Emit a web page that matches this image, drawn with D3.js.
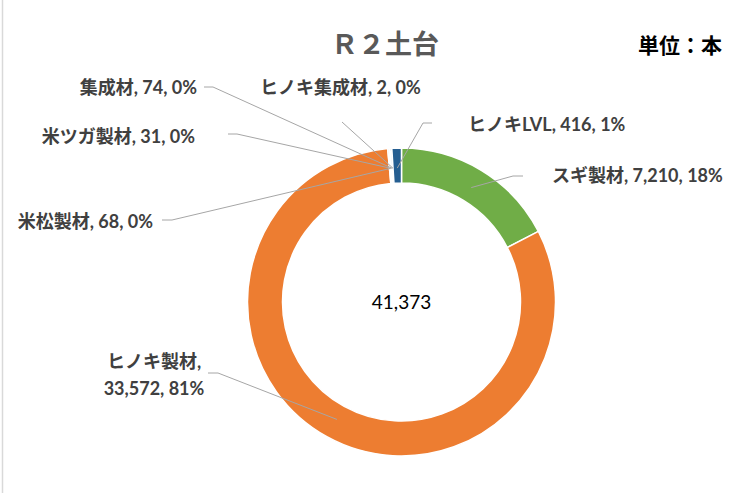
<!DOCTYPE html>
<html>
<head>
<meta charset="utf-8">
<script src="https://cdn.jsdelivr.net/npm/d3@7"></script>
<style>
	body { margin: 0; background: #fff; }
	text { font-family: "Lato", "Noto Sans CJK JP", sans-serif; }
</style>
</head>
<body>
<div id="chart"></div>
<script>

// data
const categories = ["スギ製材", "ヒノキ製材", "米松製材", "米ツガ製材", "集成材", "ヒノキ集成材", "ヒノキLVL"];
const values = [7210, 33572, 68, 31, 74, 2, 416];
const percents = ["18%", "81%", "0%", "0%", "0%", "0%", "1%"];
const colors = ["#70AD47", "#ED7D31", "#A5A5A5", "#FFC000", "#5B9BD5", "#4472C4", "#255E91"];

const title = "Ｒ２土台";
const unit = "単位：本";

const width = 736;
const height = 493;

const cx = 401.5;
const cy = 302;
const outerR = 154;
const innerR = 119;

// label layout (x, y = middle of text, anchor, elbow points of leader line)
const labelLayout = {
	"スギ製材":     {x: 552, y: 176, anchor: "start", line: [[523, 176], [513, 176]]},
	"ヒノキ製材":   {x: 154, y: 362, anchor: "middle", line: [[208, 373], [218, 373]], twoLines: true},
	"米松製材":     {x: 153, y: 222, anchor: "end", line: [[162, 220], [172, 220]]},
	"米ツガ製材":   {x: 195, y: 137, anchor: "end", line: [[228, 134], [237, 134]]},
	"集成材":       {x: 197, y: 88, anchor: "end", line: [[204, 87], [213, 87]]},
	"ヒノキ集成材": {x: 260, y: 88, anchor: "start", line: [[342, 122]]},
	"ヒノキLVL":    {x: 468, y: 125, anchor: "start", line: [[432, 123], [423, 123]]}
};

let svg = d3.select("#chart")
	.append("svg")
	.attr("width", width)
	.attr("height", height);

// chart area border (left edge)
svg.append("line")
	.attr("x1", 2.5).attr("x2", 2.5)
	.attr("y1", 0).attr("y2", height)
	.attr("stroke", "#D9D9D9")
	.attr("stroke-width", 1.5);

let data = categories.map((c, i) => ({name: c, value: values[i], pct: percents[i], color: colors[i]}));

let pie = d3.pie()
	.sort(null)
	.value(d => d.value);

let arcs = pie(data);

let arc = d3.arc()
	.innerRadius(innerR)
	.outerRadius(outerR);

let anchorArc = d3.arc()
	.innerRadius(134)
	.outerRadius(134);

let g = svg.append("g")
	.attr("transform", "translate(" + cx + "," + cy + ")");

g.selectAll("path.slice")
	.data(arcs)
	.enter()
	.append("path")
	.attr("class", "slice")
	.attr("d", arc)
	.attr("fill", d => d.data.color)
	.attr("stroke", "#fff")
	.attr("stroke-width", 1.5);

// leader lines
let lineGen = d3.line();

arcs.forEach(d => {
	let lay = labelLayout[d.data.name];
	let c = anchorArc.centroid(d);
	let pts = lay.line.concat([[c[0] + cx, c[1] + cy]]);
	svg.append("path")
		.attr("d", lineGen(pts))
		.attr("fill", "none")
		.attr("stroke", "#A6A6A6")
		.attr("stroke-width", 1);
});

// labels
let fmt = d3.format(",");

arcs.forEach(d => {
	let lay = labelLayout[d.data.name];
	let t = svg.append("text")
		.attr("x", lay.x)
		.attr("y", lay.y + 6)
		.attr("text-anchor", lay.anchor)
		.attr("font-size", "18px")
		.attr("font-weight", "bold")
		.attr("fill", "#404040");
	if (lay.twoLines) {
		t.append("tspan")
			.attr("x", lay.x)
			.text(d.data.name + ",");
		t.append("tspan")
			.attr("x", lay.x)
			.attr("dy", 27)
			.text(fmt(d.data.value) + ", " + d.data.pct);
	} else {
		t.text(d.data.name + ", " + fmt(d.data.value) + ", " + d.data.pct);
	}
});

// total in the middle
svg.append("text")
	.attr("x", cx)
	.attr("y", cy + 7)
	.attr("text-anchor", "middle")
	.attr("font-size", "19px")
	.attr("fill", "#000")
	.text(fmt(d3.sum(values)));

// title
svg.append("text")
	.attr("x", 385)
	.attr("y", 54)
	.attr("text-anchor", "middle")
	.attr("font-size", "27px")
	.attr("font-weight", "bold")
	.attr("fill", "#595959")
	.text(title);

svg.append("text")
	.attr("x", 722)
	.attr("y", 53)
	.attr("text-anchor", "end")
	.attr("font-size", "21px")
	.attr("font-weight", "bold")
	.attr("fill", "#000")
	.text(unit);

</script>
</body>
</html>
